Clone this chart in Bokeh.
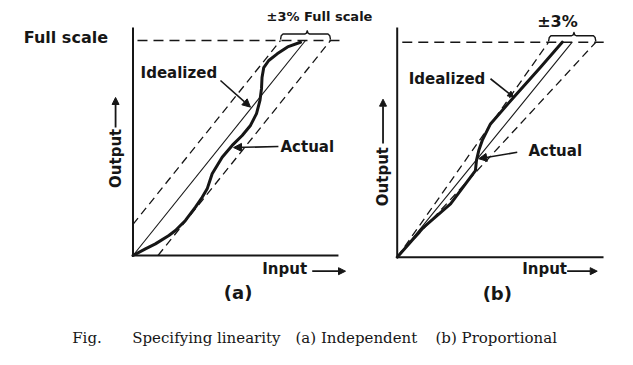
from math import pi
from bokeh.plotting import figure
from bokeh.models import Range1d, Arrow, NormalHead
from bokeh.core.properties import value
from bokeh.embed import file_html
from bokeh.resources import INLINE

# ---------------- data (normalised: 1.0 = full scale) ----------------
ideal_in = [0.0, 1.0]
ideal_out = [0.0, 1.0]
full_scale = 1.0
band_a = 0.145          # "±3 %" tolerance band, drawn exaggerated (independent)
band_b = 0.135          # "±3 %" tolerance band, drawn exaggerated (proportional)

actual_a_in = [0.0, 0.072, 0.130, 0.208, 0.246, 0.304, 0.362, 0.401, 0.430, 0.459,
               0.517, 0.575, 0.633, 0.681, 0.716, 0.736, 0.745, 0.748, 0.758, 0.787,
               0.836, 0.896, 0.971]
actual_a_out = [0.0, 0.031, 0.054, 0.093, 0.116, 0.163, 0.225, 0.271, 0.310, 0.380,
                0.457, 0.512, 0.558, 0.605, 0.660, 0.721, 0.777, 0.828, 0.874, 0.907,
                0.938, 0.970, 0.992]

actual_b_in = [0.0, 0.152, 0.305, 0.447, 0.453, 0.466, 0.486, 0.533, 0.666, 0.819, 0.943]
actual_b_out = [0.0, 0.140, 0.248, 0.403, 0.450, 0.496, 0.543, 0.620, 0.744, 0.884, 1.0]

label_full_scale = "Full scale"
label_tol_a = "±3% Full scale"
label_tol_b = "±3%"
label_ideal = "Idealized"
label_actual = "Actual"
label_out = "Output"
label_in = "Input"
panel_names = ["(a)", "(b)"]
caption = ["Fig.", "Specifying linearity", "(a) Independent", "(b) Proportional"]

# ---------------- layout / style ----------------
W, H = 617, 349
M = 0
INK = "#161616"
SANS = value("DejaVu Sans")
SERIF = value("DejaVu Serif")

PANEL = {
    "a": dict(ox=132.5, oy=255.0, w=172.5, h=215.0, xmax=1.191, ymax=1.06, fs0=0.026, fs1=1.214),
    "b": dict(ox=396.7, oy=256.7, w=175.0, h=215.0, xmax=1.179, ymax=1.068, fs0=0.029, fs1=1.18),
}

p = figure(width=W, height=H, x_range=Range1d(M, M + W), y_range=Range1d(M + H, M),
           min_border=0, toolbar_location=None, output_backend="svg",
           x_axis_type=None, y_axis_type=None)
p.outline_line_color = None
p.background_fill_color = "white"
p.border_fill_color = "white"

xr, yr = {}, {}
for k, g in PANEL.items():
    xr[k + "x"] = Range1d((M - g["ox"]) / g["w"], (M + W - g["ox"]) / g["w"])
    yr[k + "y"] = Range1d((g["oy"] - (M + H)) / g["h"], (g["oy"] - M) / g["h"])
p.extra_x_ranges = xr
p.extra_y_ranges = yr


def rn(k):
    return dict(x_range_name=k + "x", y_range_name=k + "y")


def brace(x0, x1, xm, base, top, tip):
    r = (x1 - x0) * 0.05
    xs = [x0, x0 + r * 0.3, x0 + r, xm - r, xm - r * 0.3, xm, xm + r * 0.3, xm + r, x1 - r, x1 - r * 0.3, x1]
    ys = [base, top - (top - base) * 0.3, top, top, top + (tip - top) * 0.3, tip,
          top + (tip - top) * 0.3, top, top, top - (top - base) * 0.3, base]
    return xs, ys


def arrow(k, xs, ys, xe, ye, size=8, width=1.6):
    p.add_layout(Arrow(end=NormalHead(size=size, fill_color=INK, line_color=INK, line_width=1),
                       x_start=xs, y_start=ys, x_end=xe, y_end=ye,
                       line_color=INK, line_width=width, **rn(k)))


def draw_panel(k, band, proportional, ax_in, ax_out):
    g = PANEL[k]
    # axes
    p.line([0, 0], [0, g["ymax"]], line_color=INK, line_width=2, **rn(k))
    p.line([0, g["xmax"]], [0, 0], line_color=INK, line_width=2, **rn(k))
    # full-scale level
    p.line([g["fs0"], g["fs1"]], [full_scale, full_scale], line_color=INK,
           line_width=1.4, line_dash="10 6", **rn(k))
    # tolerance band
    if proportional:
        up_x, up_y = [0, full_scale - band], [0, full_scale]
        lo_x, lo_y = [0, full_scale + band], [0, full_scale]
    else:
        up_x, up_y = [0, full_scale - band], [band, full_scale]
        lo_x, lo_y = [band, full_scale + band], [0, full_scale]
    p.line(up_x, up_y, line_color=INK, line_width=1.3, line_dash="8 5", **rn(k))
    p.line(lo_x, lo_y, line_color=INK, line_width=1.3, line_dash="8 5", **rn(k))
    # idealized
    p.line(ideal_in, ideal_out, line_color=INK, line_width=1.1, **rn(k))
    # actual
    p.line(ax_in, ax_out, line_color=INK, line_width=3, line_join="round",
           line_cap="round", **rn(k))
    # brace
    bx, by = brace(full_scale - band, full_scale + band, full_scale + 0.01,
                   full_scale + 0.004, full_scale + 0.03, full_scale + 0.045)
    p.line(bx, by, line_color=INK, line_width=1.4, line_join="round", **rn(k))


draw_panel("a", band_a, False, actual_a_in, actual_a_out)
draw_panel("b", band_b, True, actual_b_in, actual_b_out)

lab = dict(text_font=SANS, text_font_style="bold", text_color=INK, text_baseline="middle")

# ---- panel (a) labels
p.text(x=[-0.633], y=[1.012], text=[label_full_scale], text_font_size="16px", text_align="left", **lab, **rn("a"))
p.text(x=[0.774], y=[1.112], text=[label_tol_a], text_font_size="13px", text_align="left", **lab, **rn("a"))
p.text(x=[0.044], y=[0.849], text=[label_ideal], text_font_size="15px", text_align="left", **lab, **rn("a"))
arrow("a", 0.507, 0.814, 0.681, 0.690)
p.text(x=[0.855], y=[0.505], text=[label_actual], text_font_size="15px", text_align="left", **lab, **rn("a"))
arrow("a", 0.843, 0.507, 0.583, 0.502)
p.text(x=[-0.101], y=[0.452], text=[label_out], angle=pi / 2, text_font_size="15px", text_align="center", **lab, **rn("a"))
arrow("a", -0.101, 0.595, -0.101, 0.735, size=7, width=1.8)
p.text(x=[0.749], y=[-0.065], text=[label_in], text_font_size="15px", text_align="left", **lab, **rn("a"))
arrow("a", 1.039, -0.073, 1.232, -0.073, size=7, width=1.8)
p.text(x=[0.609], y=[-0.174], text=[panel_names[0]], text_font_size="18px", text_align="center", **lab, **rn("a"))

# ---- panel (b) labels
p.text(x=[0.80], y=[1.096], text=[label_tol_b], text_font_size="16px", text_align="left", **lab, **rn("b"))
p.text(x=[0.066], y=[0.83], text=[label_ideal], text_font_size="15px", text_align="left", **lab, **rn("b"))
arrow("b", 0.533, 0.83, 0.666, 0.744, size=6)
p.text(x=[0.75], y=[0.492], text=[label_actual], text_font_size="15px", text_align="left", **lab, **rn("b"))
arrow("b", 0.686, 0.488, 0.466, 0.458)
p.text(x=[-0.081], y=[0.375], text=[label_out], angle=pi / 2, text_font_size="15px", text_align="center", **lab, **rn("b"))
arrow("b", -0.081, 0.529, -0.081, 0.735, size=7, width=1.8)
p.text(x=[0.714], y=[-0.057], text=[label_in], text_font_size="15px", text_align="left", **lab, **rn("b"))
arrow("b", 0.971, -0.065, 1.143, -0.065, size=7, width=1.8)
p.text(x=[0.572], y=[-0.167], text=[panel_names[1]], text_font_size="18px", text_align="center", **lab, **rn("b"))

# ---- caption (page coordinates)
p.text(x=[71.7, 131.7, 295.0, 435.0], y=[337.0] * 4, text=caption, text_font=SERIF,
       text_font_size="15px", text_color=INK, text_align="left", text_baseline="middle")

open("out.html", "w").write(file_html(p, INLINE))
